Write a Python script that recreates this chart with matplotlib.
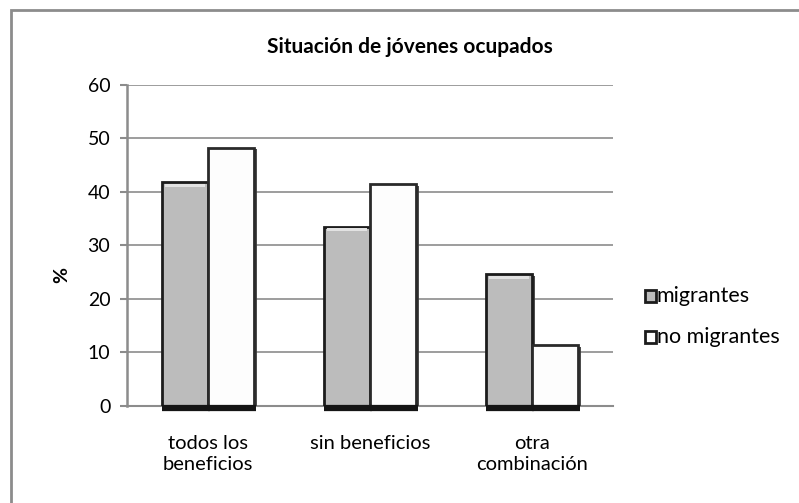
import numpy as np
import matplotlib
matplotlib.use("Agg")
import matplotlib.pyplot as plt
import matplotlib.patheffects as pe
from matplotlib.patches import Rectangle

plt.rcParams['font.family'] = ['Lato', 'DejaVu Sans']

# datos
categorias = ["todos los\nbeneficios", "sin beneficios", "otra\ncombinación"]
migrantes = [41.8, 33.5, 24.6]
no_migrantes = [48.3, 41.4, 11.3]
series = ["migrantes", "no migrantes"]
yticks = [0, 10, 20, 30, 40, 50, 60]

fig = plt.figure(figsize=(7.99, 5.03), dpi=100)
ax = fig.add_axes([127 / 799, (503 - 405.7) / 503, (613 - 127) / 799, (405.7 - 85) / 503])

# marco gris del gráfico (sólo se ven lados izquierdo y superior)
fig.add_artist(Rectangle((10.5 / 799, -0.1), 1.2, (493 / 503) + 0.1, transform=fig.transFigure,
                         fill=False, edgecolor='#8c8c8c', linewidth=2))

x = np.arange(len(categorias))
w = 0.284
sombra = [pe.SimplePatchShadow(offset=(2.5, -1), shadow_rgbFace='#3a3a3a', alpha=0.9), pe.Normal()]

b1 = ax.bar(x - w / 2, migrantes, w, color='#bcbcbc', edgecolor='#1c1c1c', linewidth=2,
            zorder=3, path_effects=sombra)
b2 = ax.bar(x + w / 2, no_migrantes, w, color='#fdfdfd', edgecolor='#2a2a2a', linewidth=2,
            zorder=3, path_effects=sombra)

# brillo superior en las barras grises
for r in b1:
    ax.add_patch(Rectangle((r.get_x() + 0.02, r.get_height() - 0.9), r.get_width() - 0.04, 0.6,
                           facecolor='#e2e2e2', edgecolor='none', zorder=4))

# franja oscura en la base de cada barra
for r in list(b1) + list(b2):
    ax.plot([r.get_x(), r.get_x() + r.get_width() + 0.01], [-0.5, -0.5], color='#151515',
            linewidth=4.5, solid_capstyle='butt', clip_on=False, zorder=5)

ax.set_xlim(-0.5, len(categorias) - 0.5)
ax.set_ylim(0, 60)
ax.set_yticks(yticks)
ax.set_yticklabels([str(t) for t in yticks], fontsize=14)
ax.set_xticks(x)
ax.set_xticklabels(categorias, fontsize=14.5, linespacing=1.3)
ax.tick_params(axis='x', length=0, pad=21)
ax.tick_params(axis='y', length=5, width=1.5, color='#8c8c8c', pad=7)
ax.yaxis.grid(True, color='#8c8c8c', linewidth=1.2, zorder=0)
ax.set_axisbelow(True)
for s in ['top', 'right']:
    ax.spines[s].set_visible(False)
ax.spines['left'].set_color('#8c8c8c')
ax.spines['left'].set_linewidth(1.8)
ax.spines['bottom'].set_color('#8c8c8c')
ax.spines['bottom'].set_linewidth(1.5)

fig.text(62 / 799, 1 - 275 / 503, '%', rotation=90, ha='center', va='center',
         fontsize=14, fontweight='bold')
fig.text(410 / 799, 1 - 47 / 503, 'Situación de jóvenes ocupados', ha='center', va='center',
         fontsize=15, fontweight='bold')

# leyenda
colores = ['#bcbcbc', '#fdfdfd']
for i, (nombre, c) in enumerate(zip(series, colores)):
    yy = 1 - (296 + 41 * i) / 503
    fig.add_artist(Rectangle((645 / 799, yy - 6 / 503), 11 / 799, 12 / 503, transform=fig.transFigure,
                             facecolor=c, edgecolor='#1c1c1c', linewidth=2))
    fig.text(657 / 799, yy, nombre, ha='left', va='center', fontsize=15.5)

fig.savefig('out.png', dpi=100)
